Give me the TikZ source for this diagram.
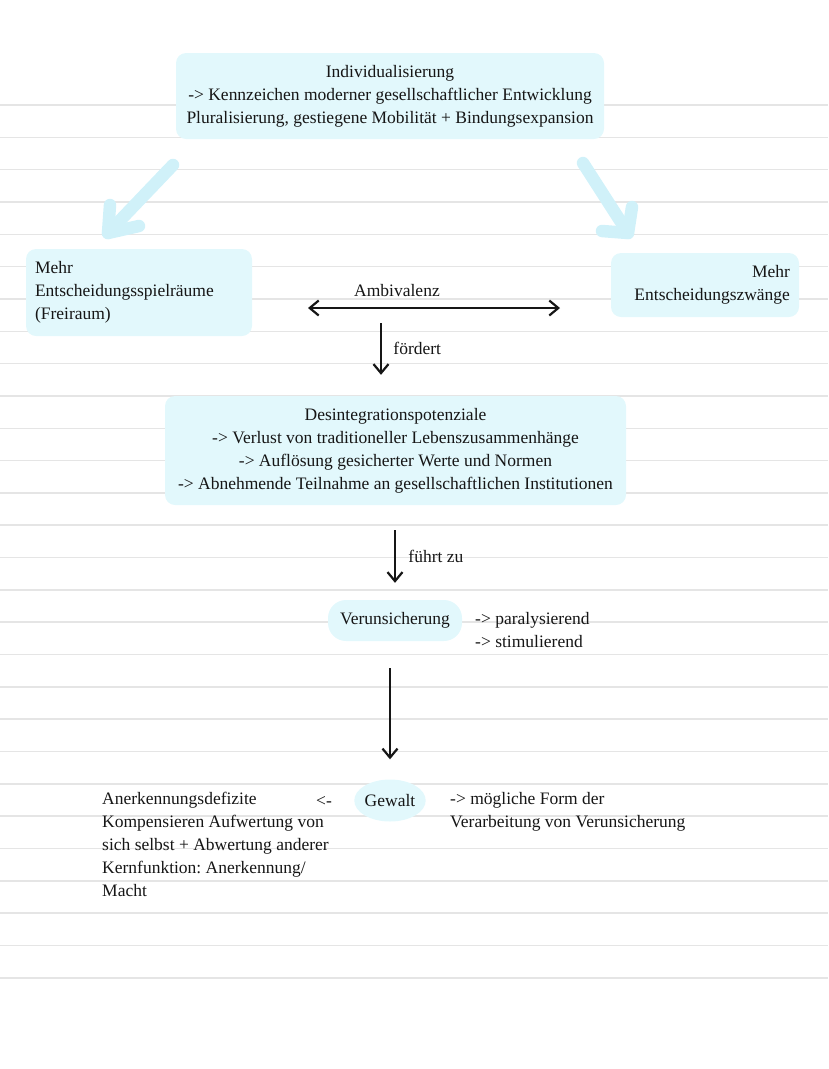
\documentclass[tikz,border=0pt]{standalone}
\usepackage{fontspec}
\setmainfont{Liberation Serif}
\usetikzlibrary{arrows.meta,shapes.geometric,positioning}

\definecolor{kastenblau}{RGB}{226,248,252}
\definecolor{pfeilblau}{RGB}{208,241,249}
\definecolor{linie}{RGB}{229,229,229}
\definecolor{schrift}{RGB}{22,22,22}

\frenchspacing
\begin{document}
\begin{tikzpicture}[
  x=1pt,
  y=-1pt,
  every node/.style={font=\fontsize{17.5}{23}\selectfont, text=schrift},
  kasten/.style={fill=kastenblau, rounded corners=10pt, inner sep=0pt},
  pfeil/.style={-{Straight Barb[length=9pt,width=15pt]}, line width=2.2pt, schrift},
  sanft/.style={pfeilblau, line width=12.5pt, line cap=round, line join=round}
]
\useasboundingbox (0,0) rectangle (828,1069);

%--------------------
% Linien (Heft)
%--------------------
\foreach \i in {0,...,27} {
  \draw[linie, line width=1.6pt] (0,{105+32.33*\i}) -- (828,{105+32.33*\i});
}

%--------------------
% Kaesten
%--------------------
\node[kasten, align=center, minimum width=428pt, minimum height=86pt]
  (indiv) at (390,96) {Individualisierung\\
  -> Kennzeichen moderner gesellschaftlicher Entwicklung\\
  Pluralisierung, gestiegene Mobilität + Bindungsexpansion};

\node[kasten, align=left, text width=208pt, inner xsep=9pt, minimum height=87pt]
  (freiraum) at (139,292.5) {Mehr\\Entscheidungsspielräume\\(Freiraum)};

\node[kasten, align=right, text width=170pt, inner xsep=9pt, minimum height=64pt]
  (zwaenge) at (705,285) {Mehr\\Entscheidungszwänge};

\node[kasten, align=center, minimum width=461pt, minimum height=109pt]
  (desint) at (395.5,450.5) {Desintegrationspotenziale\\
  -> Verlust von traditioneller Lebenszusammenhänge\\
  -> Auflösung gesicherter Werte und Normen\\
  -> Abnehmende Teilnahme an gesellschaftlichen Institutionen};

\node[kasten, rounded corners=18pt, minimum width=134pt, minimum height=41pt]
  (verun) at (395,620.5) {Verunsicherung};

\node[ellipse, fill=kastenblau, inner sep=0pt, minimum width=70pt, minimum height=42pt]
  (gewalt) at (390,800.5) {Gewalt};

%--------------------
% Hellblaue Pfeile
%--------------------
\coordinate (links1) at (173,165);
\coordinate (links2) at (108,233);
\draw[sanft] (links1) -- (links2);
\draw[sanft] (110,205) -- (links2) -- (139,226);

\coordinate (rechts1) at (583,163);
\coordinate (rechts2) at (628,233);
\draw[sanft] (rechts1) -- (rechts2);
\draw[sanft] (632,207) -- (rechts2) -- (602,231);

%--------------------
% Ambivalenz + Pfeile
%--------------------
\node (amb) at (397,291) {Ambivalenz};
\coordinate (ambL) at (308,308);
\coordinate (ambR) at (560,308);
\draw[pfeil, {Straight Barb[length=9pt,width=15pt]}-{Straight Barb[length=9pt,width=15pt]}] (ambL) -- (ambR);

\coordinate (foerd) at (381,323);
\draw[pfeil] (foerd) -- ([yshift=21pt]foerd |- desint.north)
  node[midway, right=8pt] {fördert};

\draw[pfeil] ([yshift=-25pt]desint.south -| verun.north) -- ([yshift=17pt]verun.north)
  node[midway, right=9pt] {führt zu};

\draw[pfeil] ([yshift=-27pt]gewalt.north |- verun.south) -- ([yshift=20pt]gewalt.north);

%--------------------
% Texte daneben
%--------------------
\node[align=left, anchor=west, inner sep=0pt] (verunText) at (475,630)
  {-> paralysierend\\-> stimulierend};

\node[inner sep=0pt] (zurueck) at (324,801) {<-};

\node[align=left, anchor=west, inner sep=0pt] (gewaltText) at (450,812)
  {-> mögliche Form der\\Verarbeitung von Verunsicherung};

\node[align=left, anchor=west, inner sep=0pt] (anerk) at (102,844)
  {Anerkennungsdefizite\\Kompensieren Aufwertung von\\sich selbst + Abwertung anderer\\
  Kernfunktion: Anerkennung/\\Macht};

\end{tikzpicture}
\end{document}
